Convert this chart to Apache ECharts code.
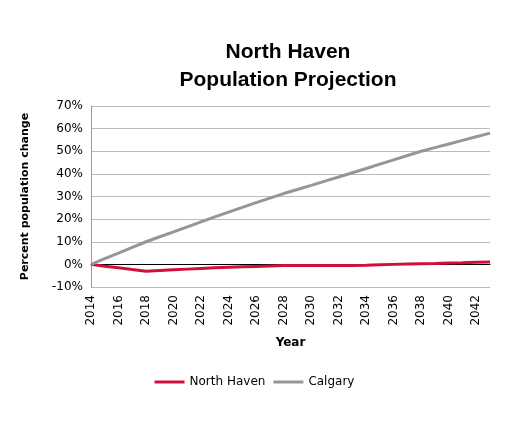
<!DOCTYPE html>
<html><head><meta charset="utf-8">
<script src="https://cdn.jsdelivr.net/npm/echarts@6/dist/echarts.min.js"></script>
<style>body{margin:0}#main{width:509px;height:425px}</style>
</head><body><div id="main"></div>
<script>
var years = ['2014','2015','2016','2017','2018','2019','2020','2021','2022','2023','2024','2025','2026','2027','2028','2029','2030','2031','2032','2033','2034','2035','2036','2037','2038','2039','2040','2041','2042','2043'];
var northHaven = [0,-0.8,-1.5,-2.3,-3,-2.7,-2.4,-2.1,-1.8,-1.5,-1.3,-1.1,-0.9,-0.7,-0.5,-0.5,-0.5,-0.5,-0.5,-0.5,-0.4,-0.2,0,0.2,0.3,0.4,0.6,0.7,0.9,1];
var calgary = [0,2.5,5,7.5,10,12.2,14.4,16.6,18.8,21,23.1,25.2,27.3,29.3,31.3,33.1,34.9,36.8,38.6,40.5,42.4,44.3,46.2,48.1,50,51.6,53.2,54.8,56.4,58];

var chart = echarts.init(document.getElementById('main'));
chart.setOption({
    title: {
        text: 'North Haven\nPopulation Projection',
        left: 283, top: 33, textAlign: 'center',
        textStyle: {fontFamily: 'Liberation Sans', fontSize: 21, fontWeight: 'bold', lineHeight: 28, color: '#000'}
    },
    legend: {
        bottom: 32, left: 'center', itemWidth: 30, itemHeight: 3, icon: 'rect',
        textStyle: {fontFamily: 'DejaVu Sans', fontSize: 12, color: '#000'},
        data: ['North Haven', 'Calgary']
    },
    grid: {left: 91, right: 19, top: 106, bottom: 138},
    xAxis: {
        type: 'category', boundaryGap: false, data: years,
        name: 'Year', nameLocation: 'middle', nameGap: 50,
        nameTextStyle: {fontFamily: 'DejaVu Sans', fontWeight: 'bold', fontSize: 12, color: '#000'},
        axisLine: {lineStyle: {color: '#000'}},
        axisTick: {show: false},
        axisLabel: {interval: 1, rotate: 90, fontFamily: 'DejaVu Sans', fontSize: 12, color: '#000'}
    },
    yAxis: {
        type: 'value', min: -10, max: 70, interval: 10,
        name: 'Percent population change', nameLocation: 'middle', nameGap: 60,
        nameTextStyle: {fontFamily: 'DejaVu Sans', fontWeight: 'bold', fontSize: 11, color: '#000'},
        axisLine: {show: true, lineStyle: {color: '#999'}},
        axisTick: {show: false},
        axisLabel: {formatter: '{value}%', fontFamily: 'DejaVu Sans', fontSize: 12, color: '#000'},
        splitLine: {lineStyle: {color: '#bbb'}}
    },
    series: [
        {name: 'North Haven', type: 'line', data: northHaven, symbol: 'none', lineStyle: {width: 3, color: '#d0103a'}, itemStyle: {color: '#d0103a'}, z: 3},
        {name: 'Calgary', type: 'line', data: calgary, symbol: 'none', lineStyle: {width: 3, color: '#969696'}, itemStyle: {color: '#969696'}}
    ]
});
</script></body></html>
